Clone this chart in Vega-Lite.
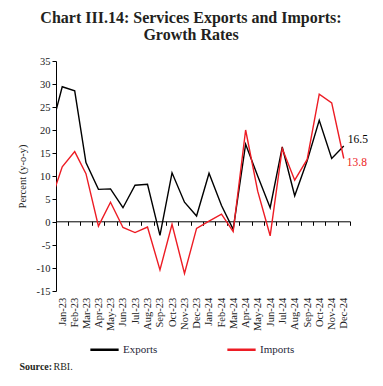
{
  "$schema": "https://vega.github.io/schema/vega-lite/v6.json",
  "autosize": {"type": "none"},
  "width": 294,
  "height": 230,
  "padding": {"left": 56, "top": 61, "right": 33, "bottom": 95},
  "background": "white",
  "title": {
    "text": ["Chart III.14: Services Exports and Imports:", "Growth Rates"],
    "font": "Liberation Serif",
    "fontSize": 16,
    "fontWeight": "bold",
    "color": "#231f20",
    "lineHeight": 17,
    "anchor": "middle",
    "frame": "group",
    "dx": -12,
    "offset": 13
  },
  "config": {
    "view": {"stroke": null},
    "axis": {"grid": false, "labelOverlap": false, "labelFont": "Liberation Serif", "titleFont": "Liberation Serif", "labelColor": "#222", "titleColor": "#222", "domainColor": "#000", "tickColor": "#000"}
  },
  "data": {
    "values": [
      {"date": "2022-12-01", "series": "Exports", "value": 19.0},
      {"date": "2023-01-01", "series": "Exports", "value": 29.4},
      {"date": "2023-02-01", "series": "Exports", "value": 28.5},
      {"date": "2023-03-01", "series": "Exports", "value": 12.9},
      {"date": "2023-04-01", "series": "Exports", "value": 7.1},
      {"date": "2023-05-01", "series": "Exports", "value": 7.2},
      {"date": "2023-06-01", "series": "Exports", "value": 3.1},
      {"date": "2023-07-01", "series": "Exports", "value": 8.0},
      {"date": "2023-08-01", "series": "Exports", "value": 8.2},
      {"date": "2023-09-01", "series": "Exports", "value": -2.9},
      {"date": "2023-10-01", "series": "Exports", "value": 10.7},
      {"date": "2023-11-01", "series": "Exports", "value": 4.3},
      {"date": "2023-12-01", "series": "Exports", "value": 1.3},
      {"date": "2024-01-01", "series": "Exports", "value": 10.6},
      {"date": "2024-02-01", "series": "Exports", "value": 3.6},
      {"date": "2024-03-01", "series": "Exports", "value": -1.6},
      {"date": "2024-04-01", "series": "Exports", "value": 16.9},
      {"date": "2024-05-01", "series": "Exports", "value": 10.0},
      {"date": "2024-06-01", "series": "Exports", "value": 3.1},
      {"date": "2024-07-01", "series": "Exports", "value": 16.3},
      {"date": "2024-08-01", "series": "Exports", "value": 5.7},
      {"date": "2024-09-01", "series": "Exports", "value": 13.3},
      {"date": "2024-10-01", "series": "Exports", "value": 22.1},
      {"date": "2024-11-01", "series": "Exports", "value": 13.8},
      {"date": "2024-12-01", "series": "Exports", "value": 16.5},
      {"date": "2022-12-01", "series": "Imports", "value": 4.0},
      {"date": "2023-01-01", "series": "Imports", "value": 12.0},
      {"date": "2023-02-01", "series": "Imports", "value": 15.3},
      {"date": "2023-03-01", "series": "Imports", "value": 10.5},
      {"date": "2023-04-01", "series": "Imports", "value": -0.9},
      {"date": "2023-05-01", "series": "Imports", "value": 4.3},
      {"date": "2023-06-01", "series": "Imports", "value": -1.2},
      {"date": "2023-07-01", "series": "Imports", "value": -2.3},
      {"date": "2023-08-01", "series": "Imports", "value": -1.1},
      {"date": "2023-09-01", "series": "Imports", "value": -10.4},
      {"date": "2023-10-01", "series": "Imports", "value": -0.5},
      {"date": "2023-11-01", "series": "Imports", "value": -11.2},
      {"date": "2023-12-01", "series": "Imports", "value": -1.4},
      {"date": "2024-01-01", "series": "Imports", "value": 0.2},
      {"date": "2024-02-01", "series": "Imports", "value": 1.7},
      {"date": "2024-03-01", "series": "Imports", "value": -2.1},
      {"date": "2024-04-01", "series": "Imports", "value": 20.0},
      {"date": "2024-05-01", "series": "Imports", "value": 6.7},
      {"date": "2024-06-01", "series": "Imports", "value": -3.0},
      {"date": "2024-07-01", "series": "Imports", "value": 16.0},
      {"date": "2024-08-01", "series": "Imports", "value": 9.1},
      {"date": "2024-09-01", "series": "Imports", "value": 13.6},
      {"date": "2024-10-01", "series": "Imports", "value": 27.8},
      {"date": "2024-11-01", "series": "Imports", "value": 25.9},
      {"date": "2024-12-01", "series": "Imports", "value": 13.8}
    ]
  },
  "encoding": {
    "y": {
      "field": "value", "type": "quantitative",
      "scale": {"domain": [-15, 35], "nice": false, "zero": false},
      "axis": {
        "values": [-15, -10, -5, 0, 5, 10, 15, 20, 25, 30, 35],
        "labelExpr": "'' + datum.value",
        "labelFontSize": 10.5,
        "labelOverlap": false,
        "labelSeparation": 0,
        "labelFlush": false,
        "labelBound": false,
        "tickSize": 4,
        "labelPadding": 2,
        "title": "Percent (y-o-y)",
        "titleFontSize": 10.5,
        "titleFontWeight": "normal",
        "titlePadding": 9
      }
    }
  },
  "resolve": {"axis": {"x": "independent"}},
  "layer": [
    {
      "mark": {"type": "line", "strokeWidth": 1.4, "clip": true},
      "encoding": {
        "x": {
          "field": "date", "type": "temporal",
          "scale": {"domain": [{"year": 2022, "month": 12, "date": 16, "hours": 12}, {"year": 2024, "month": 12, "date": 16, "hours": 12}]},
          "axis": {
            "orient": "bottom",
            "offset": -69.7,
            "values": [
              {"year": 2022, "month": 12, "date": 16, "hours": 12},
              {"year": 2023, "month": 1, "date": 16, "hours": 12},
              {"year": 2023, "month": 2, "date": 15},
              {"year": 2023, "month": 3, "date": 16, "hours": 12},
              {"year": 2023, "month": 4, "date": 16},
              {"year": 2023, "month": 5, "date": 16, "hours": 12},
              {"year": 2023, "month": 6, "date": 16},
              {"year": 2023, "month": 7, "date": 16, "hours": 12},
              {"year": 2023, "month": 8, "date": 16, "hours": 12},
              {"year": 2023, "month": 9, "date": 16},
              {"year": 2023, "month": 10, "date": 16, "hours": 12},
              {"year": 2023, "month": 11, "date": 16},
              {"year": 2023, "month": 12, "date": 16, "hours": 12},
              {"year": 2024, "month": 1, "date": 16, "hours": 12},
              {"year": 2024, "month": 2, "date": 15, "hours": 12},
              {"year": 2024, "month": 3, "date": 16, "hours": 12},
              {"year": 2024, "month": 4, "date": 16},
              {"year": 2024, "month": 5, "date": 16, "hours": 12},
              {"year": 2024, "month": 6, "date": 16},
              {"year": 2024, "month": 7, "date": 16, "hours": 12},
              {"year": 2024, "month": 8, "date": 16, "hours": 12},
              {"year": 2024, "month": 9, "date": 16},
              {"year": 2024, "month": 10, "date": 16, "hours": 12},
              {"year": 2024, "month": 11, "date": 16},
              {"year": 2024, "month": 12, "date": 16, "hours": 12}
            ],
            "labelExpr": "time(datum.value) > time(datetime(2024, 11, 10)) ? '' : timeFormat(time(datum.value) + 1728000000, '%b-%y')",
            "labelAngle": 270,
            "labelFontSize": 10.5,
            "labelOffset": 6.1,
            "labelPadding": 72,
            "labelBound": false,
            "labelOverlap": false,
            "labelFlush": false,
            "tickSize": 4,
            "tickWidth": 1,
            "domainWidth": 1,
            "title": "Source:",
            "titleFontWeight": "bold",
            "titleFontSize": 10,
            "titleColor": "#231f20",
            "titleAlign": "left",
            "titleBaseline": "middle",
            "titleAnchor": "start",
            "titleX": -37,
            "titleY": 145
          }
        },
        "color": {
          "field": "series", "type": "nominal",
          "scale": {"domain": ["Exports", "Imports"], "range": ["#000000", "#ed1c24"]},
          "legend": {
            "title": null,
            "orient": "none",
            "legendX": 33,
            "legendY": 273,
            "direction": "horizontal",
            "symbolType": "stroke",
            "symbolSize": 800,
            "symbolStrokeWidth": 2.5,
            "labelFont": "Liberation Serif",
            "labelFontSize": 11,
            "labelColor": "#1f1f3a",
            "labelOffset": 3,
            "columnPadding": 64
          }
        }
      }
    },
    {
      "transform": [{"filter": {"field": "date", "timeUnit": "yearmonth", "equal": {"year": 2024, "month": 12}}}],
      "encoding": {
        "x": {
          "field": "date", "type": "temporal",
          "axis": {
            "orient": "bottom",
            "labels": false, "ticks": false, "domain": false,
            "title": "RBI.",
            "titleFont": "Liberation Serif",
            "titleFontWeight": "normal",
            "titleFontSize": 10,
            "titleColor": "#231f20",
            "titleAlign": "left",
            "titleBaseline": "middle",
            "titleAnchor": "start",
            "titleX": -3,
            "titleY": 75.3
          }
        },
        "text": {"field": "value", "type": "quantitative", "format": ".1f"},
        "color": {"field": "series", "type": "nominal", "legend": null}
      },
      "layer": [
        {
          "transform": [{"filter": "datum.series == 'Exports'"}],
          "mark": {"type": "text", "align": "left", "baseline": "middle", "dx": 4, "dy": -6.5, "font": "Liberation Serif", "fontSize": 11.5}
        },
        {
          "transform": [{"filter": "datum.series == 'Imports'"}],
          "mark": {"type": "text", "align": "left", "baseline": "middle", "dx": 3, "dy": 4.5, "font": "Liberation Serif", "fontSize": 11.5}
        }
      ]
    }
  ]
}
